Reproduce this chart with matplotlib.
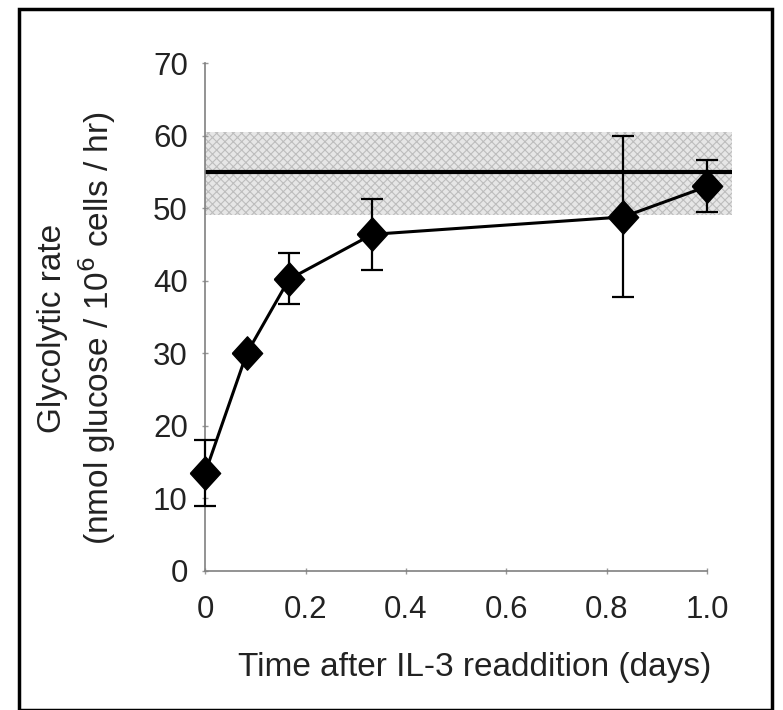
import matplotlib
matplotlib.use("Agg")
import matplotlib.pyplot as plt
from matplotlib.patches import Rectangle

plt.rcParams['font.family'] = ['Liberation Sans', 'DejaVu Sans']
plt.rcParams['hatch.color'] = '#bdbdbd'
plt.rcParams['hatch.linewidth'] = 0.8

time_days = [0.0, 0.083, 0.167, 0.333, 0.833, 1.0]
rate = [13.5, 30.0, 40.2, 46.4, 48.8, 53.0]
err_upper = [18.0, 30.0, 43.8, 51.3, 60.0, 56.6]
err_lower = [9.0, 30.0, 36.8, 41.5, 37.7, 49.5]
control_mean = 55.0
control_low = 49.0
control_high = 60.5
xticks = [0, 0.2, 0.4, 0.6, 0.8, 1.0]
xticklabels = ['0', '0.2', '0.4', '0.6', '0.8', '1.0']
yticks = [0, 10, 20, 30, 40, 50, 60, 70]

fig = plt.figure(figsize=(7.83, 7.10), dpi=100)
ax = fig.add_axes([0.262, 0.196, 0.673, 0.715])

ax.axhspan(control_low, control_high, xmin=0, xmax=1, facecolor='#e6e6e6',
           edgecolor='#bdbdbd', hatch='xxxx', linewidth=0, zorder=1)
ax.axhline(control_mean, color='black', linewidth=3, zorder=2)

yerr = [[r - l for r, l in zip(rate, err_lower)],
        [u - r for r, u in zip(rate, err_upper)]]
diamond = [(-1, 0), (0, 1.1), (1, 0), (0, -1.1), (-1, 0)]
ax.errorbar(time_days, rate, yerr=yerr, fmt='-', color='black', linewidth=2.2,
            elinewidth=1.6, capsize=8, capthick=1.6, marker=diamond,
            markersize=24, markerfacecolor='black', markeredgecolor='black',
            zorder=3, clip_on=False)

ax.set_xlim(0, 1.05)
ax.set_ylim(0, 70)
ax.set_xticks(xticks)
ax.set_xticklabels(xticklabels)
ax.set_yticks(yticks)

for s in ['top', 'right']:
    ax.spines[s].set_visible(False)
for s in ['left', 'bottom']:
    ax.spines[s].set_color('#808080')
    ax.spines[s].set_linewidth(1.2)
ax.spines['bottom'].set_bounds(0, 1.0)

ax.tick_params(axis='both', direction='inout', length=5, width=1, color='#999999',
               labelsize=22.5, labelcolor='#222222')
ax.tick_params(axis='x', pad=15)
ax.tick_params(axis='y', pad=10)

ax.set_xlabel('Time after IL-3 readdition (days)', fontsize=24, color='#222222')
ax.xaxis.set_label_coords(0.512, -0.159)
ax.set_ylabel('Glycolytic rate\n(nmol glucose / 10$^6$ cells / hr)', fontsize=24,
              color='#222222', linespacing=1.25)
ax.yaxis.set_label_coords(-0.165, 0.478)

fig.patches.append(Rectangle((0.024, 0.0), 0.962, 0.988, transform=fig.transFigure,
                             fill=False, edgecolor='black', linewidth=2.5))

fig.savefig('out.png', dpi=100)
